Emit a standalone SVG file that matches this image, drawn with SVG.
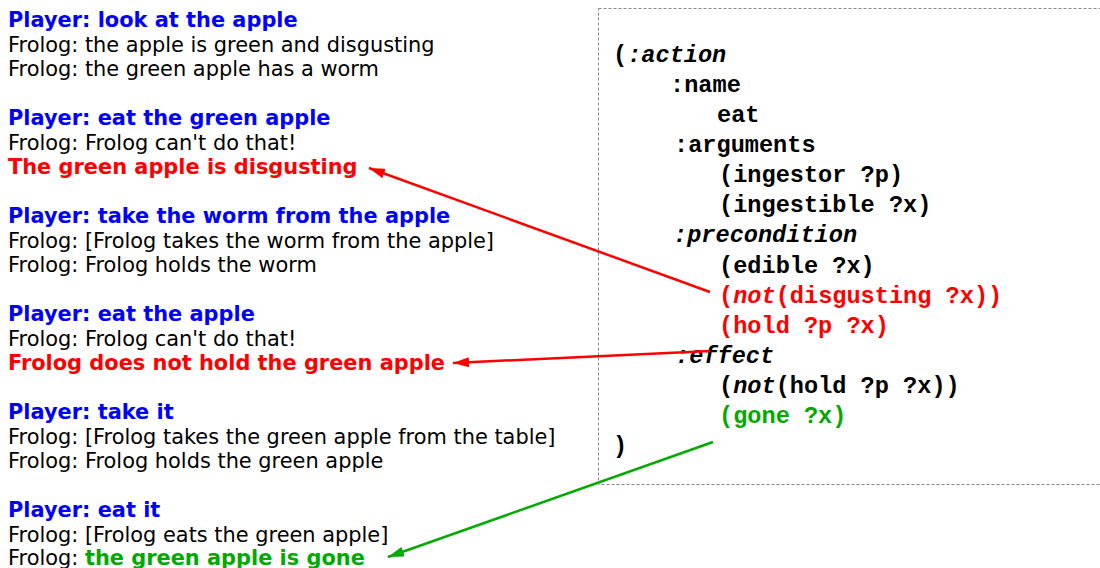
<svg xmlns="http://www.w3.org/2000/svg" width="1100" height="568" viewBox="0 0 1100 568">
<style>
.t{font-family:"DejaVu Sans",sans-serif;font-size:20.9px;fill:#000}
.p{font-weight:bold;fill:#0000ff}
.r{font-weight:bold;fill:#ff0000}
.g{font-weight:bold;fill:#00aa00}
.c{font-family:"Liberation Mono","Courier New",monospace;font-size:23.6px;font-weight:bold;fill:#000}
.cr{fill:#ff0000}
.cg{fill:#00aa00}
.i{font-style:italic}
</style>
<defs>
<marker id="ar" viewBox="0 0 16 10" refX="16" refY="5" markerWidth="16" markerHeight="10" markerUnits="userSpaceOnUse" orient="auto"><path d="M0,0 L16,5 L0,10 z" fill="#ff0000"/></marker>
<marker id="ag" viewBox="0 0 16 10" refX="16" refY="5" markerWidth="16" markerHeight="10" markerUnits="userSpaceOnUse" orient="auto"><path d="M0,0 L16,5 L0,10 z" fill="#00aa00"/></marker>
</defs>
<rect width="1100" height="568" fill="#fff"/>
<g id="dialogue">
<text class="t p" x="8" y="27">Player: look at the apple</text>
<text class="t" x="8" y="52">Frolog: the apple is green and disgusting</text>
<text class="t" x="8" y="76">Frolog: the green apple has a worm</text>
<text class="t p" x="8" y="125">Player: eat the green apple</text>
<text class="t" x="8" y="150">Frolog: Frolog can't do that!</text>
<text class="t r" x="8" y="174">The green apple is disgusting</text>
<text class="t p" x="8" y="223">Player: take the worm from the apple</text>
<text class="t" x="8" y="248">Frolog: [Frolog takes the worm from the apple]</text>
<text class="t" x="8" y="272">Frolog: Frolog holds the worm</text>
<text class="t p" x="8" y="321">Player: eat the apple</text>
<text class="t" x="8" y="346">Frolog: Frolog can't do that!</text>
<text class="t r" x="8" y="370">Frolog does not hold the green apple</text>
<text class="t p" x="8" y="419">Player: take it</text>
<text class="t" x="8" y="444">Frolog: [Frolog takes the green apple from the table]</text>
<text class="t" x="8" y="468">Frolog: Frolog holds the green apple</text>
<text class="t p" x="8" y="517">Player: eat it</text>
<text class="t" x="8" y="542">Frolog: [Frolog eats the green apple]</text>
<text class="t" x="8" y="565">Frolog: <tspan class="g">the green apple is gone</tspan></text>
</g>
<g id="action">
<rect x="598.5" y="8.5" width="520" height="476" fill="none" stroke="#888" stroke-width="1" stroke-dasharray="3,2"/>
<text class="c" x="613" y="62">(<tspan class="i">:action</tspan></text>
<text class="c" x="670" y="92">:name</text>
<text class="c" x="717" y="122">eat</text>
<text class="c" x="674" y="152">:arguments</text>
<text class="c" x="719" y="182">(ingestor ?p)</text>
<text class="c" x="719" y="212">(ingestible ?x)</text>
<text class="c i" x="673" y="242">:precondition</text>
<text class="c" x="719" y="273">(edible ?x)</text>
<text class="c cr" x="719" y="303">(<tspan class="i">not</tspan>(disgusting ?x))</text>
<text class="c cr" x="719" y="333">(hold ?p ?x)</text>
<text class="c i" x="675" y="363">:effect</text>
<text class="c" x="719" y="393">(<tspan class="i">not</tspan>(hold ?p ?x))</text>
<text class="c cg" x="719" y="423">(gone ?x)</text>
<text class="c" x="613" y="453">)</text>
</g>
<g id="connectors" fill="none" stroke-width="2.5">
<line x1="710" y1="292" x2="369" y2="168" stroke="#ff0000" marker-end="url(#ar)"/>
<line x1="710" y1="351" x2="453" y2="363" stroke="#ff0000" marker-end="url(#ar)"/>
<line x1="713" y1="442" x2="388" y2="557" stroke="#00aa00" marker-end="url(#ag)"/>
</g>
</svg>
